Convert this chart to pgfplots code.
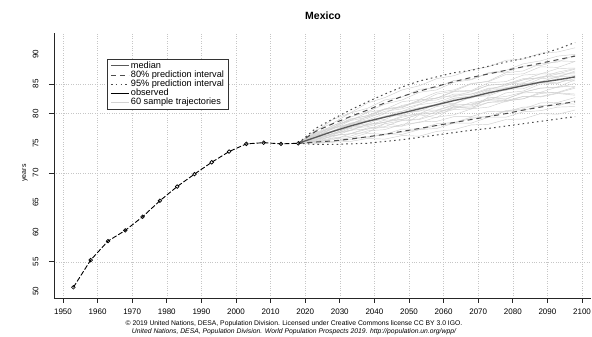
\documentclass[border=0pt]{standalone}
\usepackage{fontspec}
\setmainfont{Liberation Sans}
\usepackage{pgfplots}
\pgfplotsset{compat=1.18}
\begin{document}
\begin{tikzpicture}[x=1pt,y=1pt]
\useasboundingbox (0,0) rectangle (592,337);
\begin{axis}[
 at={(54pt,39pt)}, anchor=south west, scale only axis,
 width=537pt, height=265pt,
 xmin=1947.4, xmax=2102.6, ymin=48.9, ymax=93.6,
 axis x line=bottom, axis y line=left,
 axis line style={-, black!85, line width=0.9pt},
 xtick={1950,1960,...,2100},
 ytick={55,70,80,85},
 extra y ticks={50,60,65,75,90},
 extra y tick style={grid=none, tick style={draw=none}},
 xmajorgrids, ymajorgrids,
 grid style={dotted, gray!45, line width=0.45pt},
 tick align=outside, major tick length=5pt,
 tick style={black!85, line width=0.8pt},
 ticklabel style={font=\fontsize{8}{9}\selectfont},
 /pgf/number format/assume math mode=true,
 /pgf/number format/1000 sep={},
 yticklabel style={xshift=-7pt, rotate=90, anchor=south},
 xticklabel style={yshift=-2pt},
 clip=false,
 legend style={at={(0.0987,0.902)}, anchor=north west, draw=black!80, line width=0.8pt,
   font=\fontsize{9.2}{10}\selectfont, row sep=0.4pt, inner xsep=3pt, inner ysep=2pt,
   nodes={inner xsep=1.4pt, inner ysep=0.2pt, text height=6.6pt, text depth=1.8pt}},
 legend cell align=left,
 legend image code/.code={\draw[#1] (0pt,0pt) -- (18pt,0pt);},
 traj/.style={gray!38, line width=0.45pt, forget plot},
]
% sample trajectories
\addplot[traj] coordinates {(2018,75.0)(2023,75.0)(2028,75.2)(2033,75.3)(2038,75.8)(2043,75.7)(2048,76.3)(2053,76.2)(2058,77.0)(2063,77.3)(2068,78.1)(2073,78.2)(2078,79.0)(2083,79.1)(2088,80.0)(2093,79.9)(2098,80.6)};
\addplot[traj] coordinates {(2018,75.0)(2023,75.3)(2028,75.2)(2033,76.0)(2038,75.9)(2043,76.6)(2048,76.5)(2053,77.3)(2058,77.5)(2063,78.4)(2068,78.4)(2073,79.4)(2078,79.4)(2083,80.3)(2088,80.5)(2093,81.1)(2098,81.2)};
\addplot[traj] coordinates {(2018,75.0)(2023,75.1)(2028,75.8)(2033,75.9)(2038,76.7)(2043,76.5)(2048,77.4)(2053,77.4)(2058,78.3)(2063,78.5)(2068,79.4)(2073,79.5)(2078,80.4)(2083,80.5)(2088,81.4)(2093,81.3)(2098,82.2)};
\addplot[traj] coordinates {(2018,75.0)(2023,75.3)(2028,75.9)(2033,76.2)(2038,77.1)(2043,77.3)(2048,78.2)(2053,78.5)(2058,79.4)(2063,79.8)(2068,80.8)(2073,81.1)(2078,82.1)(2083,82.5)(2088,83.4)(2093,83.6)(2098,84.5)};
\addplot[traj] coordinates {(2018,75.0)(2023,76.4)(2028,77.0)(2033,78.3)(2038,78.7)(2043,79.5)(2048,79.7)(2053,80.6)(2058,80.6)(2063,81.5)(2068,81.5)(2073,82.3)(2078,82.2)(2083,82.9)(2088,82.8)(2093,83.4)(2098,83.1)};
\addplot[traj] coordinates {(2018,75.0)(2023,75.8)(2028,76.4)(2033,77.5)(2038,77.8)(2043,78.6)(2048,79.0)(2053,79.9)(2058,80.1)(2063,81.2)(2068,81.3)(2073,82.4)(2078,82.5)(2083,83.5)(2088,83.6)(2093,84.5)(2098,84.6)};
\addplot[traj] coordinates {(2018,75.0)(2023,75.9)(2028,76.6)(2033,77.8)(2038,78.3)(2043,79.4)(2048,79.9)(2053,80.9)(2058,81.5)(2063,82.6)(2068,83.0)(2073,84.2)(2078,84.7)(2083,85.7)(2088,86.1)(2093,87.0)(2098,87.6)};
\addplot[traj] coordinates {(2018,75.0)(2023,76.1)(2028,76.9)(2033,78.1)(2038,78.6)(2043,79.6)(2048,80.0)(2053,81.0)(2058,81.3)(2063,82.4)(2068,82.6)(2073,83.7)(2078,83.9)(2083,84.9)(2088,85.2)(2093,85.9)(2098,86.1)};
\addplot[traj] coordinates {(2018,75.0)(2023,76.6)(2028,77.6)(2033,79.0)(2038,79.7)(2043,80.8)(2048,81.2)(2053,82.3)(2058,82.6)(2063,83.7)(2068,83.8)(2073,84.8)(2078,85.0)(2083,85.9)(2088,86.0)(2093,86.7)(2098,86.7)};
\addplot[traj] coordinates {(2018,75.0)(2023,76.8)(2028,77.9)(2033,79.4)(2038,80.3)(2043,81.6)(2048,82.3)(2053,83.6)(2058,84.0)(2063,85.3)(2068,85.7)(2073,86.9)(2078,87.3)(2083,88.4)(2088,88.9)(2093,89.7)(2098,90.0)};
\addplot[traj] coordinates {(2018,75.0)(2023,75.4)(2028,76.3)(2033,76.6)(2038,77.4)(2043,77.7)(2048,77.9)(2053,78.6)(2058,78.7)(2063,79.5)(2068,79.5)(2073,80.4)(2078,80.3)(2083,81.1)(2088,81.2)(2093,81.8)(2098,81.6)};
\addplot[traj] coordinates {(2018,75.0)(2023,76.5)(2028,77.4)(2033,78.8)(2038,79.4)(2043,80.7)(2048,81.0)(2053,82.3)(2058,82.6)(2063,83.8)(2068,83.9)(2073,85.2)(2078,85.4)(2083,86.5)(2088,86.7)(2093,87.6)(2098,87.7)};
\addplot[traj] coordinates {(2018,75.0)(2023,77.2)(2028,78.4)(2033,80.1)(2038,80.9)(2043,82.3)(2048,82.8)(2053,84.1)(2058,84.4)(2063,85.6)(2068,85.8)(2073,86.8)(2078,87.0)(2083,88.0)(2088,88.1)(2093,88.9)(2098,88.8)};
\addplot[traj] coordinates {(2018,75.0)(2023,75.2)(2028,76.3)(2033,76.6)(2038,77.6)(2043,77.8)(2048,78.9)(2053,79.1)(2058,80.4)(2063,80.8)(2068,81.9)(2073,82.2)(2078,83.5)(2083,83.8)(2088,85.0)(2093,85.1)(2098,86.4)};
\addplot[traj] coordinates {(2018,75.0)(2023,76.0)(2028,77.5)(2033,78.2)(2038,79.5)(2043,80.1)(2048,81.4)(2053,81.9)(2058,83.3)(2063,83.8)(2068,85.0)(2073,85.5)(2078,86.9)(2083,87.2)(2088,88.4)(2093,88.7)(2098,89.9)};
\addplot[traj] coordinates {(2018,75.0)(2023,76.0)(2028,76.6)(2033,77.7)(2038,78.0)(2043,78.9)(2048,79.0)(2053,79.9)(2058,80.1)(2063,81.0)(2068,81.1)(2073,81.9)(2078,82.0)(2083,82.9)(2088,82.9)(2093,83.5)(2098,83.3)};
\addplot[traj] coordinates {(2018,75.0)(2023,76.1)(2028,77.6)(2033,78.3)(2038,79.2)(2043,80.4)(2048,80.8)(2053,81.6)(2058,82.7)(2063,83.0)(2068,83.7)(2073,84.8)(2078,85.0)(2083,85.7)(2088,86.7)(2093,86.7)(2098,87.5)};
\addplot[traj] coordinates {(2018,75.0)(2023,75.5)(2028,76.6)(2033,77.1)(2038,78.2)(2043,78.5)(2048,79.6)(2053,80.0)(2058,81.2)(2063,81.6)(2068,82.8)(2073,83.2)(2078,84.4)(2083,84.7)(2088,85.9)(2093,86.1)(2098,87.2)};
\addplot[traj] coordinates {(2018,75.0)(2023,77.0)(2028,79.0)(2033,80.1)(2038,81.8)(2043,82.7)(2048,84.0)(2053,84.7)(2058,85.9)(2063,86.4)(2068,87.4)(2073,87.9)(2078,89.0)(2083,89.2)(2088,90.2)(2093,90.4)(2098,91.1)};
\addplot[traj] coordinates {(2018,75.0)(2023,75.0)(2028,75.3)(2033,75.6)(2038,76.1)(2043,76.4)(2048,76.9)(2053,77.3)(2058,78.0)(2063,78.4)(2068,79.2)(2073,79.5)(2078,80.5)(2083,80.8)(2088,81.8)(2093,81.9)(2098,82.7)};
\addplot[traj] coordinates {(2018,75.0)(2023,76.7)(2028,77.7)(2033,79.1)(2038,79.6)(2043,80.8)(2048,81.1)(2053,82.1)(2058,82.3)(2063,83.3)(2068,83.3)(2073,84.3)(2078,84.3)(2083,85.1)(2088,85.2)(2093,85.7)(2098,85.5)};
\addplot[traj] coordinates {(2018,75.0)(2023,75.9)(2028,77.1)(2033,77.6)(2038,78.7)(2043,79.0)(2048,80.2)(2053,80.4)(2058,81.6)(2063,81.7)(2068,82.8)(2073,83.0)(2078,84.1)(2083,84.2)(2088,85.3)(2093,85.2)(2098,85.9)};
\addplot[traj] coordinates {(2018,75.0)(2023,76.3)(2028,78.0)(2033,78.8)(2038,80.2)(2043,80.7)(2048,82.0)(2053,82.4)(2058,83.6)(2063,84.0)(2068,85.1)(2073,85.4)(2078,86.6)(2083,86.7)(2088,87.9)(2093,87.8)(2098,88.8)};
\addplot[traj] coordinates {(2018,75.0)(2023,75.3)(2028,75.6)(2033,76.6)(2038,76.8)(2043,78.3)(2048,77.9)(2053,79.8)(2058,79.3)(2063,81.2)(2068,80.8)(2073,82.8)(2078,82.4)(2083,83.6)(2088,84.3)(2093,84.5)(2098,85.7)};
\addplot[traj] coordinates {(2018,75.0)(2023,76.2)(2028,77.0)(2033,78.2)(2038,78.8)(2043,79.5)(2048,80.4)(2053,81.0)(2058,81.6)(2063,82.6)(2068,82.8)(2073,83.9)(2078,84.2)(2083,85.0)(2088,85.4)(2093,86.2)(2098,86.4)};
\addplot[traj] coordinates {(2018,75.0)(2023,75.6)(2028,76.7)(2033,77.2)(2038,78.2)(2043,78.5)(2048,79.4)(2053,80.0)(2058,80.5)(2063,81.4)(2068,81.6)(2073,82.6)(2078,82.9)(2083,83.6)(2088,84.3)(2093,84.4)(2098,85.1)};
\addplot[traj] coordinates {(2018,75.0)(2023,76.3)(2028,77.1)(2033,78.4)(2038,78.9)(2043,80.0)(2048,80.4)(2053,81.5)(2058,81.9)(2063,82.9)(2068,83.3)(2073,84.0)(2078,84.9)(2083,85.2)(2088,86.2)(2093,86.3)(2098,87.0)};
\addplot[traj] coordinates {(2018,75.0)(2023,75.7)(2028,76.1)(2033,77.2)(2038,77.4)(2043,78.3)(2048,78.8)(2053,79.0)(2058,79.9)(2063,80.7)(2068,80.8)(2073,81.9)(2078,82.2)(2083,82.5)(2088,83.6)(2093,83.5)(2098,84.3)};
% 95% interval
\addplot[black!70, line width=1pt, dash pattern=on 1.6pt off 3.2pt, forget plot] coordinates {(2018,75.0)(2023,77.5)(2028,79.1)(2033,80.6)(2038,82.0)(2043,83.3)(2048,84.5)(2053,85.5)(2058,86.2)(2063,86.9)(2068,87.3)(2073,88.0)(2078,88.7)(2083,89.3)(2088,90.0)(2093,90.9)(2098,92.0)};
\addplot[black!70, line width=1pt, dash pattern=on 1.6pt off 3.2pt, forget plot] coordinates {(2018,75.0)(2023,74.8)(2028,74.8)(2033,74.9)(2038,75.0)(2043,75.3)(2048,75.6)(2053,76.0)(2058,76.4)(2063,76.8)(2068,77.2)(2073,77.5)(2078,77.9)(2083,78.3)(2088,78.7)(2093,79.1)(2098,79.5)};
% 80% interval
\addplot[black!70, line width=1pt, dash pattern=on 5pt off 4pt, forget plot] coordinates {(2018,75.0)(2023,77.0)(2028,78.3)(2033,79.5)(2038,80.6)(2043,81.8)(2048,82.9)(2053,83.8)(2058,84.6)(2063,85.4)(2068,86.1)(2073,86.7)(2078,87.3)(2083,87.9)(2088,88.5)(2093,89.1)(2098,89.7)};
\addplot[black!70, line width=1pt, dash pattern=on 5pt off 4pt, forget plot] coordinates {(2018,75.0)(2023,75.2)(2028,75.4)(2033,75.7)(2038,76.1)(2043,76.5)(2048,77.0)(2053,77.5)(2058,78.0)(2063,78.5)(2068,79.0)(2073,79.5)(2078,80.0)(2083,80.6)(2088,81.1)(2093,81.6)(2098,82.0)};
% median
\addplot[black!65, line width=1.3pt, forget plot] coordinates {(2018,75.0)(2023,76.0)(2028,77.0)(2033,77.9)(2038,78.7)(2043,79.4)(2048,80.1)(2053,80.8)(2058,81.5)(2063,82.2)(2068,82.8)(2073,83.5)(2078,84.1)(2083,84.7)(2088,85.3)(2093,85.7)(2098,86.2)};
% observed
\addplot[black, line width=0.9pt, dash pattern=on 5pt off 2pt, mark=o, mark size=1.8pt, mark options={solid, fill=white, line width=0.7pt}, forget plot] coordinates {(1953,50.7)(1958,55.3)(1963,58.5)(1968,60.3)(1973,62.6)(1978,65.3)(1983,67.7)(1988,69.8)(1993,71.8)(1998,73.6)(2003,74.9)(2008,75.1)(2013,74.9)(2018,75.0)};
% legend
\addlegendimage{black!65, line width=1.1pt}
\addlegendentry{median}
\addlegendimage{black!70, line width=0.9pt, dash pattern=on 5pt off 4pt}
\addlegendentry{80\% prediction interval}
\addlegendimage{black!70, line width=0.9pt, dash pattern=on 1.6pt off 3.2pt}
\addlegendentry{95\% prediction interval}
\addlegendimage{black, line width=1.1pt}
\addlegendentry{observed}
\addlegendimage{gray!35, line width=1pt}
\addlegendentry{60 sample trajectories}
\end{axis}
\node[font=\bfseries\fontsize{10.5}{12}\selectfont] at (323,321) {Mexico};
\node[rotate=90, font=\fontsize{7}{8}\selectfont] at (25,164) {years};
\node[font=\fontsize{6.8}{7}\selectfont] at (294,13) {© 2019 United Nations, DESA, Population Division. Licensed under Creative Commons license CC BY 3.0 IGO.};
\node[font=\itshape\fontsize{6.8}{7}\selectfont] at (294,5) {United Nations, DESA, Population Division. World Population Prospects 2019. http://population.un.org/wpp/};
\end{tikzpicture}
\end{document}
